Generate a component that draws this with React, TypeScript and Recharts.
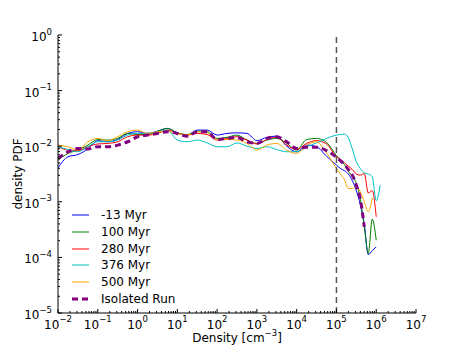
import { Legend, Line, LineChart, ReferenceLine, XAxis, YAxis, Label } from "recharts";

// log10(density) sample points
const densityExp = [
  -2, -1.75, -1.5, -1.25, -1, -0.75, -0.5, -0.25, 0, 0.25, 0.5, 0.75, 1, 1.25, 1.5, 1.75, 2, 2.25, 2.5, 2.75,
  3, 3.25, 3.5, 3.75, 4, 4.25, 4.5, 4.75, 5, 5.1, 5.2, 5.3, 5.4, 5.5, 5.6, 5.7, 5.8, 5.9, 6, 6.1,
];

// log10(PDF)
const pdfMinus13 = [
  -2.39, -2.19, -2.15, -2.05, -1.9, -1.92, -1.88, -1.77, -1.74, -1.77, -1.73, -1.68, -1.76, -1.8, -1.71, -1.71, -1.8, -1.77, -1.76, -1.77,
  -1.9, -1.84, -1.82, -2.0, -2.1, -1.98, -2.01, -2.18, -2.34, -2.4, -2.44, -2.5, -2.62, -2.8, -3.05, -3.4, -3.95, -3.88, -3.81, null,
];
const pdf100 = [
  -2.25, -2.13, -2.07, -1.98, -1.88, -1.89, -1.86, -1.77, -1.79, -1.79, -1.73, -1.68, -1.76, -1.79, -1.73, -1.74, -1.86, -1.84, -1.8, -1.89,
  -1.95, -1.89, -1.86, -1.95, -2.07, -1.88, -1.86, -1.93, -2.17, -2.25, -2.33, -2.45, -2.55, -2.67, -2.95, -3.45, -3.93, -3.31, -3.69, null,
];
const pdf280 = [
  -2.01, -2.07, -2.08, -2.01, -1.96, -1.95, -1.92, -1.83, -1.8, -1.8, -1.77, -1.71, -1.77, -1.8, -1.77, -1.79, -1.89, -1.86, -1.83, -1.89,
  -1.96, -1.88, -1.84, -1.98, -2.06, -1.95, -1.9, -1.96, -2.19, -2.24, -2.3, -2.36, -2.42, -2.5, -2.52, -2.49, -2.84, -2.8, -3.27, null,
];
const pdf376 = [
  -2.01, -2.06, -2.1, -2.01, -1.92, -1.92, -1.89, -1.8, -1.77, -1.77, -1.74, -1.71, -1.89, -1.92, -1.89, -1.94, -2.01, -2.01, -1.94, -2.0,
  -2.04, -2.01, -2.06, -2.1, -2.1, -2.01, -1.94, -1.86, -1.8, -1.79, -1.78, -1.85, -2.05, -2.28, -2.4, -2.48, -2.5, -2.55, -2.98, -2.7,
];
const pdf500 = [
  -1.98, -2.01, -2.07, -1.92, -1.86, -1.9, -1.83, -1.74, -1.71, -1.77, -1.74, -1.73, -1.77, -1.8, -1.74, -1.76, -1.88, -1.88, -1.89, -1.95,
  -2.07, -1.98, -1.95, -2.07, -2.13, -1.98, -1.92, -2.12, -2.4, -2.5, -2.6, -2.76, -2.76, -2.73, -2.82, -3.0, -3.18, -2.93, null, null,
];
const pdfIsolated = [
  -2.22, -2.1, -2.04, -2.05, -2.01, -2.01, -1.98, -1.92, -1.83, -1.8, -1.77, -1.74, -1.77, -1.82, -1.74, -1.74, -1.88, -1.86, -1.84, -1.92,
  -1.95, -1.86, -1.83, -1.92, -2.04, -2.02, -2.02, -2.08, -2.2, -2.26, -2.33, -2.42, -2.52, -2.7, -2.95, -3.45, null, null, null, null,
];

const seriesNames = ["-13 Myr", "100 Myr", "280 Myr", "376 Myr", "500 Myr", "Isolated Run"];
const seriesValues = [pdfMinus13, pdf100, pdf280, pdf376, pdf500, pdfIsolated];
const seriesColors = ["#0000ff", "#008000", "#ff0000", "#00bfbf", "#ffa500", "#800080"];

const xTickExp = [-2, -1, 0, 1, 2, 3, 4, 5, 6, 7];
const yTickExp = [-5, -4, -3, -2, -1, 0];
const minorSteps = [2, 3, 4, 5, 6, 7, 8, 9];
const threshold = 1e5;

const FONT = "DejaVu Sans, sans-serif";

const rows = densityExp.map((e, i) => {
  const row: Record<string, number | null> = { density: Math.pow(10, e) };
  seriesNames.forEach((name, s) => {
    const v = seriesValues[s][i];
    row[name] = v == null ? null : Math.pow(10, v);
  });
  return row;
});

const withMinor = (exps: number[]) => {
  const out: number[] = [];
  exps.forEach((e, i) => {
    out.push(Math.pow(10, e));
    if (i < exps.length - 1) minorSteps.forEach((m) => out.push(m * Math.pow(10, e)));
  });
  return out;
};
const xTicks = withMinor(xTickExp);
const yTicks = withMinor(yTickExp);

const isMajor = (v: number) => {
  const e = Math.log10(v);
  return Math.abs(e - Math.round(e)) < 1e-6;
};
const expText = (v: number) => {
  const e = Math.round(Math.log10(v));
  return e < 0 ? "\u2212" + Math.abs(e) : String(e);
};

function PowLabel({ x, y, v, anchor }: { x: number; y: number; v: number; anchor: "middle" | "end" }) {
  return (
    <text x={x} y={y} textAnchor={anchor} fontSize={12} fontFamily={FONT} fill="#000">
      10
      <tspan fontSize={8.5} dy={-6.5}>
        {expText(v)}
      </tspan>
    </text>
  );
}

function BottomTick(props: any) {
  const { x, y, payload } = props;
  const major = isMajor(payload.value);
  return (
    <g>
      <line x1={x} x2={x} y1={y} y2={y - (major ? 4 : 2)} stroke="#000" />
      {major && <PowLabel x={x} y={y + 15.5} v={payload.value} anchor="middle" />}
    </g>
  );
}

function TopTick(props: any) {
  const { x, y, payload } = props;
  const major = isMajor(payload.value);
  return <line x1={x} x2={x} y1={y} y2={y + (major ? 4 : 2)} stroke="#000" />;
}

function LeftTick(props: any) {
  const { x, y, payload } = props;
  const major = isMajor(payload.value);
  return (
    <g>
      <line x1={x} x2={x + (major ? 4 : 2)} y1={y} y2={y} stroke="#000" />
      {major && <PowLabel x={x - 6} y={y + 6} v={payload.value} anchor="end" />}
    </g>
  );
}

function RightTick(props: any) {
  const { x, y, payload } = props;
  const major = isMajor(payload.value);
  return <line x1={x} x2={x - (major ? 4 : 2)} y1={y} y2={y} stroke="#000" />;
}

function LegendBox() {
  return (
    <div style={{ fontFamily: FONT, fontSize: 12, color: "#000" }}>
      {seriesNames.map((name, i) => {
        const isolated = name === "Isolated Run";
        return (
          <div key={name} style={{ display: "flex", alignItems: "center", height: 16.7 }}>
            <svg width={29} height={10} style={{ flex: "none" }}>
              <line
                x1={0}
                x2={17}
                y1={5}
                y2={5}
                stroke={seriesColors[i]}
                strokeWidth={isolated ? 3 : 1}
                strokeDasharray={isolated ? "6 4" : undefined}
              />
            </svg>
            <span style={{ whiteSpace: "nowrap" }}>{name}</span>
          </div>
        );
      })}
    </div>
  );
}

export default function App() {
  return (
    <div style={{ position: "absolute", left: 0, top: 0, width: 463, height: 348, background: "#fff" }}>
      <LineChart width={463} height={348} data={rows} margin={{ top: 35, right: 47, bottom: 0, left: 0 }}>
        <XAxis
          dataKey="density"
          type="number"
          scale="log"
          domain={[1e-2, 1e7]}
          allowDataOverflow
          ticks={xTicks}
          interval={0}
          tick={<BottomTick />}
          tickLine={false}
          tickSize={0}
          tickMargin={0}
          height={35}
          axisLine={{ stroke: "#000" }}
        >
          <Label
            content={(p: any) => {
              const vb = p.viewBox;
              return (
                <text x={vb.x + vb.width / 2} y={vb.y + 29} textAnchor="middle" fontSize={12} fontFamily={FONT} fill="#000">
                  Density [cm
                  <tspan fontSize={8.5} dy={-6}>
                    {"\u22123"}
                  </tspan>
                  <tspan dy={6}>]</tspan>
                </text>
              );
            }}
          />
        </XAxis>
        <XAxis
          xAxisId="top"
          orientation="top"
          dataKey="density"
          type="number"
          scale="log"
          domain={[1e-2, 1e7]}
          allowDataOverflow
          ticks={xTicks}
          interval={0}
          tick={<TopTick />}
          tickLine={false}
          tickSize={0}
          tickMargin={0}
          height={0}
          axisLine={{ stroke: "#000" }}
        />
        <YAxis
          type="number"
          scale="log"
          domain={[1e-5, 1]}
          allowDataOverflow
          ticks={yTicks}
          interval={0}
          tick={<LeftTick />}
          tickLine={false}
          tickSize={0}
          tickMargin={0}
          width={58}
          axisLine={{ stroke: "#000" }}
        >
          <Label
            content={(p: any) => {
              const vb = p.viewBox;
              const cy = vb.y + vb.height / 2;
              return (
                <text x={22} y={cy} transform={`rotate(-90, 22, ${cy})`} textAnchor="middle" fontSize={12} fontFamily={FONT} fill="#000">
                  density PDF
                </text>
              );
            }}
          />
        </YAxis>
        <YAxis
          yAxisId="right"
          orientation="right"
          type="number"
          scale="log"
          domain={[1e-5, 1]}
          allowDataOverflow
          ticks={yTicks}
          interval={0}
          tick={<RightTick />}
          tickLine={false}
          tickSize={0}
          tickMargin={0}
          width={0}
          axisLine={{ stroke: "#000" }}
        />
        {seriesNames.map((name, i) => {
          const isolated = name === "Isolated Run";
          return (
            <Line
              key={name}
              dataKey={name}
              name={name}
              type="monotone"
              stroke={seriesColors[i]}
              strokeWidth={isolated ? 3 : 1}
              strokeDasharray={isolated ? "6 4" : undefined}
              dot={false}
              activeDot={false}
              isAnimationActive={false}
            />
          );
        })}
        <ReferenceLine x={threshold} stroke="#555" strokeWidth={1.5} strokeDasharray="6 4" />
        <Legend
          layout="vertical"
          align="center"
          verticalAlign="middle"
          content={<LegendBox />}
          wrapperStyle={{ left: 72, top: 207, width: "auto", height: "auto" }}
        />
      </LineChart>
    </div>
  );
}
